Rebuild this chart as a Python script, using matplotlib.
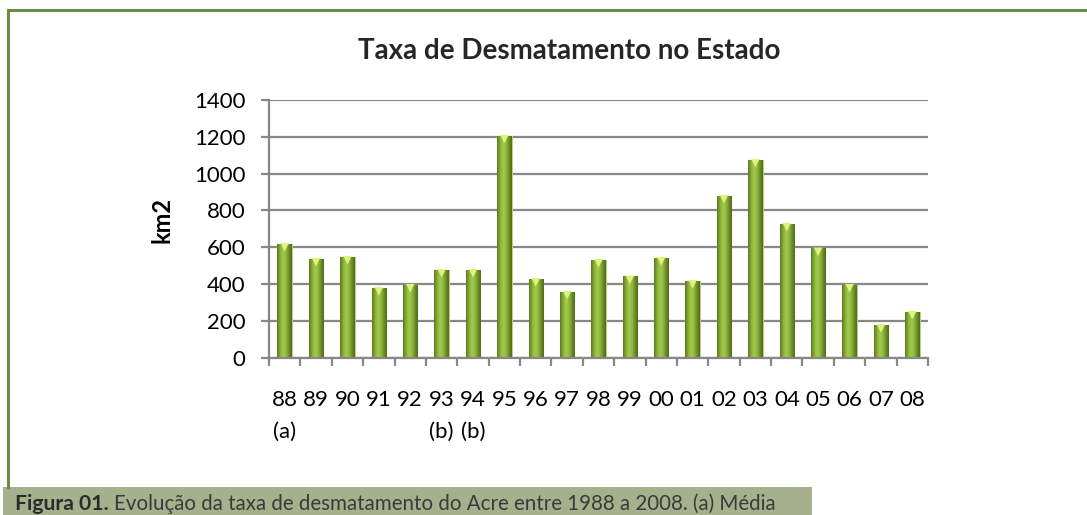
import numpy as np
import matplotlib
matplotlib.use("Agg")
import matplotlib.pyplot as plt
from matplotlib.patches import Rectangle
from matplotlib.lines import Line2D
from matplotlib.colors import LinearSegmentedColormap
import matplotlib.transforms as mtransforms

plt.rcParams['font.family'] = ['Lato', 'DejaVu Sans']

years = ["88", "89", "90", "91", "92", "93", "94", "95", "96", "97", "98",
         "99", "00", "01", "02", "03", "04", "05", "06", "07", "08"]
notes = ["(a)", "", "", "", "", "(b)", "(b)", "", "", "", "",
         "", "", "", "", "", "", "", "", "", ""]
values = [619, 538, 549, 379, 397, 478, 478, 1206, 429, 359, 532,
          442, 543, 418, 880, 1076, 728, 594, 397, 179, 250]
yticks = [0, 200, 400, 600, 800, 1000, 1200, 1400]

title = "Taxa de Desmatamento no Estado"
ylabel = "km2"
caption_bold = "Figura 01."
caption_rest = "Evolução da taxa de desmatamento do Acre entre 1988 a 2008. (a) Média"

W, H = 1087, 515
fig = plt.figure(figsize=(W / 100, H / 100), dpi=100)
fig.patch.set_facecolor("white")

ax = fig.add_axes([269 / W, 1 - 357.7 / H, (928 - 269) / W, (357.7 - 100) / H])
grid_c = "#878787"
x = np.arange(len(values))
bw = 0.46

ax.set_xlim(-0.5, len(values) - 0.5)
ax.set_ylim(0, 1400)
ax.set_yticks(yticks)
ax.yaxis.grid(True, color=grid_c, linewidth=1.6, zorder=0)
ax.set_axisbelow(True)
for s in ["top", "right"]:
    ax.spines[s].set_visible(False)
for s in ["left", "bottom"]:
    ax.spines[s].set_color(grid_c)
    ax.spines[s].set_linewidth(1.6)

bars = ax.bar(x, values, width=bw, color="#86aa38", edgecolor="#b9d08a",
              linewidth=0.8, zorder=2)

cmap = LinearSegmentedColormap.from_list(
    "cyl", ["#5a7620", "#86ad36", "#a3cb4c", "#92bb40", "#6f9128", "#51691b"])
grad = np.linspace(0, 1, 64).reshape(1, -1)
for b in bars:
    im = ax.imshow(grad, cmap=cmap, aspect="auto", zorder=2.5,
                   extent=(b.get_x(), b.get_x() + b.get_width(), 0, b.get_height()),
                   interpolation="bicubic")
    im.set_clip_path(b)
ax.set_xlim(-0.5, len(values) - 0.5)
ax.set_ylim(0, 1400)

off = mtransforms.offset_copy(ax.transData, fig=fig, x=0, y=-3.5, units="dots")
ax.scatter(x, values, marker="v", s=38, color="#def27c", edgecolors="none",
           zorder=3, transform=off)

ax.set_xticks(x)
ax.set_xticklabels([y + ("\n" + n if n else "") for y, n in zip(years, notes)],
                   fontsize=16, linespacing=1.75)
ax.set_xticks(np.arange(-0.5, len(values), 1.0), minor=True)
ax.tick_params(axis="x", which="major", length=0, pad=23.5)
ax.tick_params(axis="x", which="minor", length=6, width=1.6, color=grid_c,
               direction="out")
ax.tick_params(axis="y", length=6, width=1.6, color=grid_c, pad=11,
               labelsize=16)

fig.text(569 / W, 1 - 51 / H, title, ha="center", va="center",
         fontsize=20, fontweight="bold", color="#262626")
fig.text(162 / W, 1 - 220 / H, ylabel, ha="center", va="center", rotation=90,
         fontsize=17, fontweight="bold", color="black")

# frame
fig.add_artist(Line2D([8 / W, 8 / W, 1.0], [1 - 487 / H, 1 - 9.5 / H, 1 - 9.5 / H],
                      transform=fig.transFigure, color="#6a8c45", linewidth=2.2,
                      solid_joinstyle="miter"))
fig.patches.append(Rectangle((3 / W, 0), (812 - 3) / W, 28 / H,
                             transform=fig.transFigure, facecolor="#a6b08c",
                             edgecolor="none", zorder=1))
fig.text(15 / W, 5 / H, caption_bold, ha="left", va="baseline",
         fontsize=15.2, fontweight="bold", color="#2b2b2b")
fig.text(114 / W, 5 / H, caption_rest, ha="left", va="baseline",
         fontsize=14.8, color="#3a3a3a")

fig.savefig("out.png", dpi=100)
